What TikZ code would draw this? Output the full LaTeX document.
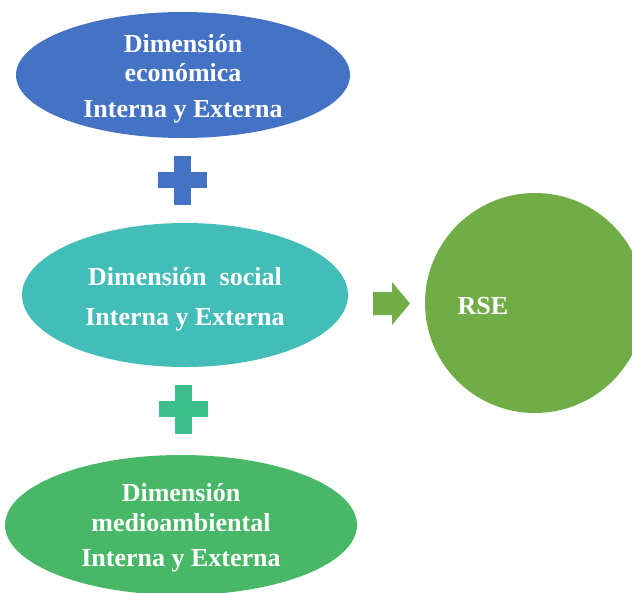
\documentclass[tikz,border=0pt]{standalone}
\usepackage{fontspec}
\setmainfont{Liberation Serif}
\usetikzlibrary{positioning,shapes.geometric}
\definecolor{ecoblue}{HTML}{4472C4}
\definecolor{socteal}{HTML}{43BDB8}
\definecolor{medgreen}{HTML}{48B868}
\definecolor{rsegreen}{HTML}{70AD47}
\definecolor{plusgreen}{HTML}{3CBE8C}
\newcommand\plussign[2]{%
  \fill[#1] (#2) ++(-8.5,-24.5) rectangle ++(17,49);
  \fill[#1] (#2) ++(-24.5,-8) rectangle ++(49,16);}
\begin{document}
\begin{tikzpicture}[x=1pt,y=-1pt,
		dim/.style={ellipse,draw=none,inner sep=0pt},
		txt/.style={font=\fontsize{26}{29}\selectfont\bfseries,text=white,align=center,inner sep=0pt}]
\useasboundingbox (0,0) rectangle (632,592);
\node[dim,fill=ecoblue,minimum width=334,minimum height=126] (eco) at (183,75) {};
\node[dim,fill=socteal,minimum width=326,minimum height=144] (soc) at (185,295) {};
\node[dim,fill=medgreen,minimum width=352,minimum height=140] (med) at (181,525) {};
\node[circle,fill=rsegreen,minimum size=220,inner sep=0pt] (rse) at (535,303) {};
\node[txt] (ecot) at ([yshift=-3.5pt]eco) {Dimensión\\ económica\\[7pt] Interna y Externa};
\node[txt] (soct) at ([yshift=-4pt]soc) {Dimensión~~social\\[11pt] Interna y Externa};
\node[txt] (medt) at ([yshift=-2.5pt]med) {Dimensión\\[1pt] medioambiental\\[6pt] Interna y Externa};
\node[txt] (rset) at (483,306) {RSE};
% signos y flecha
\coordinate (p1) at (182,180);
\coordinate (p2) at (183,409);
\coordinate (a) at (373,303.5);
\plussign{ecoblue}{p1}
\plussign{plusgreen}{p2}
\fill[rsegreen] (a) ++(0,-11.5) -- ++(19,0) -- ++(0,-10) -- ++(18,21.5)
	-- ++(-18,21.5) -- ++(0,-10) -- ++(-19,0) -- cycle;
\end{tikzpicture}
\end{document}
